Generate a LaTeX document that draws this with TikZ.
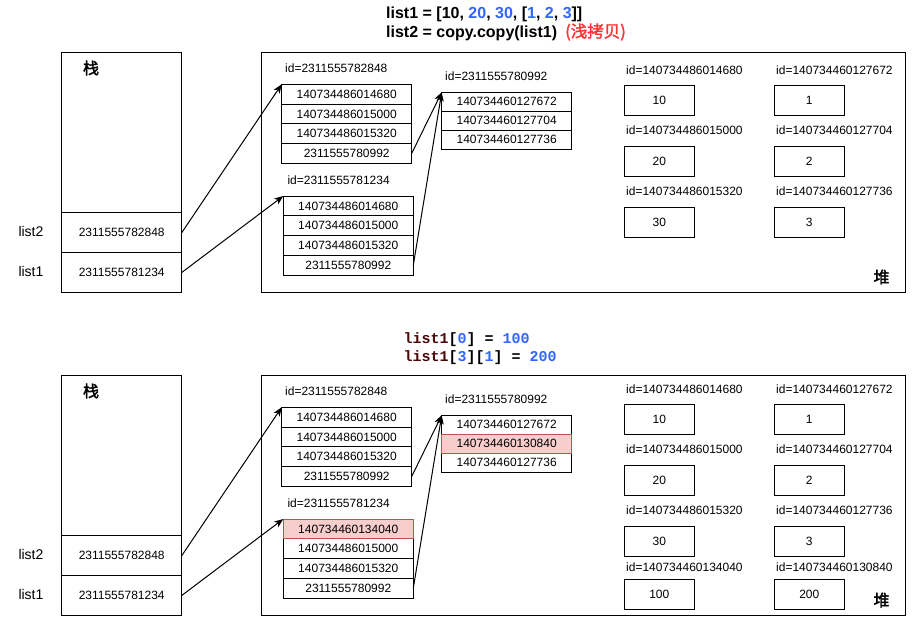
\documentclass[tikz,border=0pt]{standalone}
\usepackage{fontspec}
\setmainfont{Liberation Sans}
\setmonofont{Liberation Mono}
\newfontfamily\cjk{Noto Sans CJK SC}
\newfontfamily\cjkb[FakeBold=2]{Noto Sans CJK SC}
\usetikzlibrary{arrows.meta}
\definecolor{blu}{HTML}{3366FF}
\definecolor{redt}{HTML}{FF3333}
\definecolor{mar}{HTML}{4A0808}
\definecolor{hlfill}{HTML}{F8CECC}
\definecolor{hldraw}{HTML}{B85450}
\newcommand\myfnt{\fontsize{12}{14}\selectfont}
\tikzset{
  box/.style={draw, line width=1pt, inner sep=0pt, outer sep=0pt, anchor=north west, font=\myfnt},
  cell/.style={box, minimum width=130pt, minimum height=19.75pt},
  icell/.style={box, minimum width=130pt, minimum height=19pt},
  vbox/.style={box, minimum width=70pt, minimum height=30pt},
  hl/.style={fill=hlfill},
  idl/.style={anchor=west, inner sep=0pt, font=\myfnt},
  varl/.style={anchor=base west, inner sep=0pt, font=\fontsize{14}{16}\selectfont},
  cjkl/.style={inner sep=0pt, font=\cjkb\fontsize{16}{18}\selectfont},
  arr/.style={line width=1pt, -{Stealth[length=9pt,width=7pt,inset=2.5pt]}},
}
\begin{document}
\begin{tikzpicture}[x=1pt,y=-1pt]
\useasboundingbox[fill=white] (0,0) rectangle (921,622);
\coordinate (lx) at (18.3,0);

% ---------- titles ----------
\node[anchor=base west, inner sep=0pt, font=\bfseries\fontsize{16}{18}\selectfont] (t1) at (386,18.3)
  {list1 = [10, \textcolor{blu}{20}, \textcolor{blu}{30}, [\textcolor{blu}{1}, \textcolor{blu}{2}, \textcolor{blu}{3}]]};
\node[anchor=base west, inner sep=0pt, font=\bfseries\fontsize{16}{18}\selectfont] (t2) at (386,37.3)
  {list2 = copy.copy(list1)};
\node[anchor=base west, inner sep=0pt, text=redt, font=\cjkb\fontsize{16.5}{18}\selectfont] (t3) at (565,37.3)
  {(浅拷贝)};
\node[anchor=base west, inner sep=0pt, font=\ttfamily\bfseries\fontsize{15}{18}\selectfont] (t4) at (403.3,343.3)
  {\textcolor{mar}{list1}[\textcolor{blu}{0}] = \textcolor{blu}{100}};
\node[anchor=base west, inner sep=0pt, font=\ttfamily\bfseries\fontsize{15}{18}\selectfont] (t5) at (403.3,361)
  {\textcolor{mar}{list1}[\textcolor{blu}{3}][\textcolor{blu}{1}] = \textcolor{blu}{200}};

% ================= TOP =================
\node[box, minimum width=120pt, minimum height=160pt] (stk) at (61.7,52.7) {};
\node[box, minimum width=120pt, minimum height=40pt] (s2) at (61.7,212.7) {2311555782848};
\node[box, minimum width=120pt, minimum height=39.6pt] (s1) at (61.7,252.7) {2311555781234};
\node[cjkl] (zhan) at (91,68) {栈};
\node[varl] (l2) at (s2.base -| lx) {list2};
\node[varl] (l1) at (s1.base -| lx) {list1};

\node[box, minimum width=643.3pt, minimum height=239.6pt] (heap) at (261.7,52.7) {};
\node[cjkl] (dui) at (881.5,277) {堆};

\node[idl] (ida) at (285,68.3) {id=2311555782848};
\node[cell] (a1) at (281.7,84.3) {140734486014680};
\node[cell] (a2) at (a1.south west) {140734486015000};
\node[cell] (a3) at (a2.south west) {140734486015320};
\node[cell] (a4) at (a3.south west) {2311555780992};

\node[idl] (idb) at (287.3,180.7) {id=2311555781234};
\node[cell] (b1) at (283.3,196) {140734486014680};
\node[cell] (b2) at (b1.south west) {140734486015000};
\node[cell] (b3) at (b2.south west) {140734486015320};
\node[cell] (b4) at (b3.south west) {2311555780992};

\node[idl] (idc) at (445,76) {id=2311555780992};
\node[icell] (c1) at (441.7,92.3) {140734460127672};
\node[icell] (c2) at (c1.south west) {140734460127704};
\node[icell] (c3) at (c2.south west) {140734460127736};

\node[idl] (iv1) at (626,70) {id=140734486014680};
\node[vbox] (v1) at (624.3,85.3) {10};
\node[idl] (iv2) at (626,130) {id=140734486015000};
\node[vbox] (v2) at (624.3,146.3) {20};
\node[idl] (iv3) at (626,191.7) {id=140734486015320};
\node[vbox] (v3) at (624.3,207.3) {30};
\node[idl] (iw1) at (776,70) {id=140734460127672};
\node[vbox] (w1) at (774.3,85.3) {1};
\node[idl] (iw2) at (776,130.7) {id=140734460127704};
\node[vbox] (w2) at (774.3,146.3) {2};
\node[idl] (iw3) at (776,191.7) {id=140734460127736};
\node[vbox] (w3) at (774.3,207.3) {3};

\draw[arr] (s2.east) -- (a1.north west);
\draw[arr] (s1.east) -- (b1.north west);
\draw[arr] (a4.east) -- (c1.north west);
\draw[arr] (b4.east) -- (c1.north west);

% ================= BOTTOM =================
\node[box, minimum width=120pt, minimum height=160pt] (Bstk) at (61.7,375.7) {};
\node[box, minimum width=120pt, minimum height=40pt] (Bs2) at (61.7,535.7) {2311555782848};
\node[box, minimum width=120pt, minimum height=39.6pt] (Bs1) at (61.7,575.7) {2311555781234};
\node[cjkl] (Bzhan) at (91,391) {栈};
\node[varl] (Bl2) at (Bs2.base -| lx) {list2};
\node[varl] (Bl1) at (Bs1.base -| lx) {list1};

\node[box, minimum width=643.3pt, minimum height=239.6pt] (Bheap) at (261.7,375.7) {};
\node[cjkl] (Bdui) at (881.5,600) {堆};

\node[idl] (Bida) at (285,391.3) {id=2311555782848};
\node[cell] (Ba1) at (281.7,407.3) {140734486014680};
\node[cell] (Ba2) at (Ba1.south west) {140734486015000};
\node[cell] (Ba3) at (Ba2.south west) {140734486015320};
\node[cell] (Ba4) at (Ba3.south west) {2311555780992};

\node[idl] (Bidb) at (287.3,503.7) {id=2311555781234};
\node[cell, hl] (Bb1) at (283.3,519) {140734460134040};
\node[cell] (Bb2) at (Bb1.south west) {140734486015000};
\node[cell] (Bb3) at (Bb2.south west) {140734486015320};
\node[cell] (Bb4) at (Bb3.south west) {2311555780992};
\draw[line width=1pt, draw=hldraw] (Bb1.north west) rectangle (Bb1.south east);

\node[idl] (Bidc) at (445,399) {id=2311555780992};
\node[icell] (Bc1) at (441.7,415.3) {140734460127672};
\node[icell, hl] (Bc2) at (Bc1.south west) {140734460130840};
\node[icell] (Bc3) at (Bc2.south west) {140734460127736};
\draw[line width=1pt, draw=hldraw] (Bc2.north west) rectangle (Bc2.south east);

\node[idl] (Biv1) at (626,389) {id=140734486014680};
\node[vbox] (Bv1) at (624.3,404.3) {10};
\node[idl] (Biv2) at (626,449) {id=140734486015000};
\node[vbox] (Bv2) at (624.3,465.3) {20};
\node[idl] (Biv3) at (626,510.7) {id=140734486015320};
\node[vbox] (Bv3) at (624.3,526.3) {30};
\node[idl] (Biv4) at (626,567.7) {id=140734460134040};
\node[vbox] (Bv4) at (624.3,579.3) {100};
\node[idl] (Biw1) at (776,389) {id=140734460127672};
\node[vbox] (Bw1) at (774.3,404.3) {1};
\node[idl] (Biw2) at (776,449) {id=140734460127704};
\node[vbox] (Bw2) at (774.3,465.3) {2};
\node[idl] (Biw3) at (776,510.7) {id=140734460127736};
\node[vbox] (Bw3) at (774.3,526.3) {3};
\node[idl] (Biw4) at (776,567.7) {id=140734460130840};
\node[vbox] (Bw4) at (774.3,579.3) {200};

\draw[arr] (Bs2.east) -- (Ba1.north west);
\draw[arr] (Bs1.east) -- (Bb1.north west);
\draw[arr] (Ba4.east) -- (Bc1.north west);
\draw[arr] (Bb4.east) -- (Bc1.north west);
\end{tikzpicture}
\end{document}
